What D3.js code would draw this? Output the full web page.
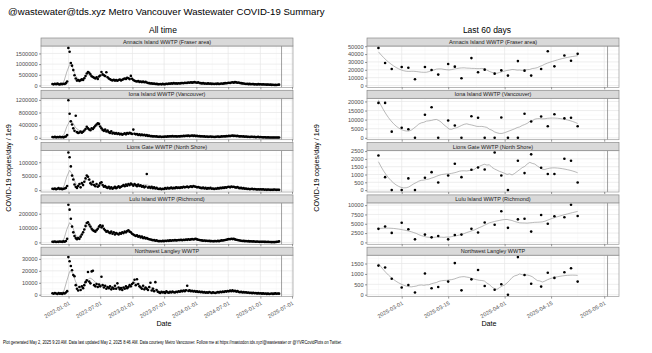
<!DOCTYPE html>
<html>
<head>
<meta charset="utf-8">
<script src="https://cdn.jsdelivr.net/npm/d3@7"></script>
<style>
  body { margin: 0; background: #fff; }
  svg { font-family: "Liberation Sans", Arial, sans-serif; }
</style>
</head>
<body>
<svg id="chart" width="652" height="353"></svg>
<script>
// ---- data ----
const plantNames = [
  "Annacis Island WWTP (Fraser area)",
  "Iona Island WWTP (Vancouver)",
  "Lions Gate WWTP (North Shore)",
  "Lulu Island WWTP (Richmond)",
  "Northwest Langley WWTP"
];

// all time: one sample per week from this date, values in thousands of copies/day/1e9
const allTimeStart = "2021-10-01";
const annacisAll = [70,55,80,60,90,65,50,75,60,85, 70,110,190,
  1760,1580,1050,930,720,480,330, 230,260,210,250,290,260,
  340,440,560,630,600,520,430,400, 360,330,380,310,420,
  470,630,520,480,440,620,390,
  330,290,260,240,270,230,250,220,260,280,240,270,
  300,330,310,360,340,300,450,320,
  260,220,200,190,210,170,190,160,180,150,170,140,
  120,110,95,100,80,90,70,75,65,
  60,70,55,75,60,65,80,70,90,85,100,90,110,95,100,90,105,
  95,110,120,105,130,115,125,140,130,150,135,145,160,140,130,150,120,110,
  100,110,90,95,85,100,80,90,75,85,70,80,75,90,70,85,95,80,100,110,105,
  120,130,115,140,150,135,160,145,130,140,120,110,100,95,
  85,70,80,65,75,60,70,65,55,60,50,65,55,
  60,50,55,45,50,40,45,35,40,30,35,25,30,25,35,40];
const ionaAll = [25,20,30,15,25,20,30,20,25,15,30,40,90,
  1190,760,520,420,300,220,700, 180,150,170,200,160,190,
  230,280,350,300,260,240,300,280, 330,380,420,460,440,
  360,300,250,220,260,200,230,
  180,150,210,140,160,130,150,120,140,110,130,100,
  120,140,110,150,130,160,140,120,
  260,130,110,120,90,110,85,100,80,95,70,85,
  60,70,50,55,45,50,40,45,35,
  30,40,25,35,30,40,35,45,40,50,45,55,40,50,45,40,50,
  45,55,50,60,55,65,60,70,55,65,75,60,70,55,60,50,55,45,
  50,40,45,35,40,30,35,40,30,35,25,30,35,40,30,35,45,40,50,45,55,
  50,60,55,65,70,60,65,55,60,50,45,50,40,45,
  35,40,30,35,25,30,35,25,30,20,25,30,20,
  25,20,15,20,15,10,15,12,10,8,12,10,8,10,12,8];
const lionsGateAll = [5,4,6,3,5,7,4,6,3,5,6,8,15,
  135,118,85,52,38,20,12, 8,15,22,10,25,18,
  30,42,52,48,38,25,20,30, 18,14,22,12,16,
  25,28,18,12,15,10,8,
  12,6,10,5,8,12,7,10,14,9,12,15,
  18,14,20,16,22,18,24,20,
  16,22,18,14,20,15,17,12,15,10,13,58,
  9,11,8,12,7,10,6,8,5,
  4,6,3,5,4,7,5,8,6,7,9,6,8,7,10,8,9,
  8,10,9,12,10,11,13,10,12,14,11,15,13,12,10,11,9,8,
  7,9,6,8,5,7,6,8,5,6,4,6,5,7,6,8,7,9,8,10,9,
  11,12,10,13,11,12,10,9,11,8,7,8,6,7,
  5,6,4,5,3,4,5,3,4,3,2,3,2,
  3,2,3,1.5,2,1,2,1.5,1,1.5,1,2,1.5,1,1.5,1];
const luluAll = [5,4,6,3,5,4,6,5,4,7,5,10,25,
  262,228,165,110,70,45,30, 22,30,25,40,55,70,
  90,115,135,140,125,110,95,85, 80,75,85,95,110,
  120,105,115,95,85,75,80,
  70,65,75,60,70,55,65,60,55,65,60,70,
  65,75,70,80,85,75,70,60,
  55,50,45,50,40,45,35,40,30,35,28,30,
  25,22,20,18,15,16,12,14,10,
  9,10,8,11,9,12,10,13,11,14,12,15,13,16,14,15,17,
  16,18,15,19,17,20,18,22,19,21,24,20,23,25,21,19,17,15,
  14,12,13,11,12,10,11,9,10,8,9,10,8,11,9,12,14,13,15,17,19,
  21,24,22,26,23,25,21,19,17,15,13,12,10,11,
  9,10,8,9,7,8,6,7,6,5,6,5,4,
  5,4,5,3.5,4,3,3.5,2.5,3,2,2.5,2,3,4,5,7];
const langleyAll = [1.2,0.8,1.5,1.0,0.6,1.3,0.9,1.1,0.7,1.4,1.0,1.8,3.0,
  31.5,28,24,20.5,16.5,15.5,8, 5,3.5,6.5,4,7,5.5,
  8,10.5,12,19,11,9.5,19.5,20, 8,7,9,6.5,8.5,
  7,15,8,6,7.5,5,6.5,
  5.5,7,4.5,6,5,7.5,5,9.5,6,4.5,5.5,4,
  6,5,7,5.5,6.5,8,7,9,
  10,12.5,8,13,9,7,6,5,7.5,4.5,6,5,
  4,6.5,10,3.5,5,3,10.5,4,2.5,
  2,1.5,2.5,1.8,2.2,1.5,2.8,2,1.7,2.4,1.9,2.6,2.1,1.8,2.5,2.2,2.9,
  2.5,3.2,2.8,3.5,3,3.8,7.5,3.2,3.6,2.9,3.3,2.7,3.1,2.5,2.8,2.3,2.6,2.1,
  2.4,1.9,2.2,1.7,2,1.6,2.3,1.8,1.5,2.1,1.7,1.4,1.9,2.2,1.8,2.5,2.1,2.7,2.3,2.9,2.6,
  3.1,2.8,3.4,3,3.6,2.9,3.3,2.6,3,2.4,2.1,2.5,1.9,2.2,
  1.8,2.1,1.6,1.9,1.4,1.7,1.3,1.6,1.2,1.5,1.1,1.3,1.0,
  1.2,0.9,1.1,0.8,1.0,0.7,0.9,0.6,0.8,1.0,0.7,0.9,1.1,0.8,1.0,0.9];

// last 60 days (copies/day/1e9)
const recentDates = ["2025-02-22","2025-02-24","2025-02-26","2025-03-01","2025-03-03","2025-03-05",
  "2025-03-08","2025-03-10","2025-03-12","2025-03-15","2025-03-17","2025-03-19","2025-03-22",
  "2025-03-24","2025-03-26","2025-03-29","2025-03-31","2025-04-02","2025-04-05","2025-04-07",
  "2025-04-09","2025-04-12","2025-04-14","2025-04-16","2025-04-19","2025-04-21","2025-04-23"];
const annacisRecent = [47900,28600,21000,23500,22700,8000,23500,19700,13900,27300,24000,9200,34900,
  16800,20200,15100,19300,12600,31100,18900,12600,21000,43700,24400,38200,31500,40300];
const ionaRecent = [19200,19200,3400,5500,4700,0,12700,16800,0,9500,6800,0,11900,
  11000,0,0,11200,0,0,13200,9000,11700,6400,13000,10700,11000,6400];
const lionsGateRecent = [2220,830,0,0,750,0,790,1150,490,940,1690,830,1300,
  1450,1320,2410,940,0,1880,1090,2290,1430,1030,1030,2010,1880,490];
const luluRecent = [3640,4270,2550,5270,3550,820,2090,1360,1730,820,2000,2090,3640,
  2640,5360,4730,8360,3910,6180,6360,2900,7360,5000,7000,6730,10090,7090];
const langleyRecent = [1400,1310,770,350,470,110,1020,310,370,630,1520,210,740,
  1190,420,240,500,0,1810,950,530,390,1060,810,1080,1270,630];

const reportDate = "2025-05-02";

// axis ticks
const allTimeXTicks = ["2022-01-01","2022-07-01","2023-01-01","2023-07-01","2024-01-01","2024-07-01","2025-01-01","2025-07-01"];
const recentXTicks = ["2025-03-01","2025-03-15","2025-04-01","2025-04-15","2025-05-01"];
const allTimeYTicks = [
  [0,500000,1000000,1500000],
  [0,400000,800000,1200000],
  [0,50000,100000],
  [0,100000,200000],
  [0,10000,20000,30000]
];
const recentYTicks = [
  [0,10000,20000,30000,40000,50000],
  [0,5000,10000,15000,20000],
  [0,500,1000,1500,2000,2500],
  [0,2500,5000,7500,10000],
  [0,500,1000,1500]
];

const titleText = "@wastewater@tds.xyz Metro Vancouver Wastewater COVID-19 Summary";
const footerText = "Plot generated May 2, 2025 9:20 AM. Data last updated May 2, 2025 8:46 AM. Data courtesy Metro Vancouver. Follow me at https://mastodon.tds.xyz/@wastewater or @YVRCovidPlots on Twitter.";

// ---- layout ----
const parse = d3.utcParse("%Y-%m-%d");
const svg = d3.select("#chart");
const leftCol = [41, 293], rightCol = [367, 619];
const rowTop = 38, rowStep = 52.3, stripH = 8, panelH = 41.4;
const tickColor = "#333", labelColor = "#4d4d4d";

// ggplot-ish 5% expansion
function expandDates(a, b) {
  const pad = (b - a) * 0.05;
  return [new Date(+a - pad), new Date(+b + pad)];
}

// local regression like geom_smooth(method = "loess")
function loess(xs, ys, span, degree, at) {
  const n = xs.length;
  const q = Math.min(n, Math.max(degree + 2, Math.floor(span * n)));
  return at.map(x0 => {
    const d = xs.map(x => Math.abs(x - x0));
    const h = d.slice().sort((a, b) => a - b)[q - 1] * 1.0001 || 1;
    const m = degree + 1;
    const A = Array.from({ length: m }, () => new Array(m).fill(0));
    const b = new Array(m).fill(0);
    for (let i = 0; i < n; i++) {
      const u = d[i] / h;
      if (u >= 1) continue;
      const w = Math.pow(1 - u * u * u, 3);
      const t = (xs[i] - x0) / h;
      const p = [1, t, t * t].slice(0, m);
      for (let r = 0; r < m; r++) {
        b[r] += w * p[r] * ys[i];
        for (let c = 0; c < m; c++) A[r][c] += w * p[r] * p[c];
      }
    }
    return solve(A, b)[0];
  });
}

function solve(A, b) {
  const n = b.length;
  const M = A.map((row, i) => row.concat([b[i]]));
  for (let c = 0; c < n; c++) {
    let piv = c;
    for (let r = c + 1; r < n; r++) if (Math.abs(M[r][c]) > Math.abs(M[piv][c])) piv = r;
    [M[c], M[piv]] = [M[piv], M[c]];
    for (let r = c + 1; r < n; r++) {
      const f = M[r][c] / M[c][c];
      for (let k = c; k <= n; k++) M[r][k] -= f * M[c][k];
    }
  }
  const x = new Array(n).fill(0);
  for (let r = n - 1; r >= 0; r--) {
    let s = M[r][n];
    for (let k = r + 1; k < n; k++) s -= M[r][k] * x[k];
    x[r] = s / M[r][r];
  }
  return x;
}

function midpoints(ticks, lo, hi) {
  const out = [];
  for (let i = 0; i < ticks.length - 1; i++) out.push((ticks[i] + ticks[i + 1]) / 2);
  const step = ticks[1] - ticks[0];
  out.push(ticks[0] - step / 2, ticks[ticks.length - 1] + step / 2);
  return out.filter(v => v > lo && v < hi);
}

function drawPanel(cfg) {
  const { col, row, label, dates, values, x, xTicks, yTicks, span, degree, r, bottom } = cfg;
  const g = svg.append("g");
  const top = rowTop + row * rowStep;
  const pTop = top + stripH, pBot = pTop + panelH;

  // smooth line
  const days = dates.map(d => +d / 864e5);
  const [d0, d1] = d3.extent(days);
  const sx = d3.range(80).map(k => d0 + (d1 - d0) * k / 79);
  const sy = loess(days, values, span, degree, sx);

  const yMax = Math.max(d3.max(values), d3.max(sy));
  const yMin = Math.min(0, d3.min(values), d3.min(sy));
  const pad = (yMax - yMin) * 0.05;
  const y = d3.scaleLinear().domain([yMin - pad, yMax + pad]).range([pBot, pTop]);

  // grid
  const xNum = xTicks.map(d => +d);
  const xMinor = midpoints(xNum, +x.domain()[0], +x.domain()[1]);
  const yMinor = midpoints(yTicks, y.domain()[0], y.domain()[1]);
  g.append("g").selectAll("line").data(yMinor).join("line")
    .attr("x1", col[0]).attr("x2", col[1]).attr("y1", d => y(d)).attr("y2", d => y(d))
    .attr("stroke", "#f2f2f2").attr("stroke-width", 0.4);
  g.append("g").selectAll("line").data(xMinor).join("line")
    .attr("y1", pTop).attr("y2", pBot).attr("x1", d => x(new Date(d))).attr("x2", d => x(new Date(d)))
    .attr("stroke", "#f2f2f2").attr("stroke-width", 0.4);
  g.append("g").selectAll("line").data(yTicks).join("line")
    .attr("x1", col[0]).attr("x2", col[1]).attr("y1", d => y(d)).attr("y2", d => y(d))
    .attr("stroke", "#e6e6e6").attr("stroke-width", 0.7);
  g.append("g").selectAll("line").data(xTicks).join("line")
    .attr("y1", pTop).attr("y2", pBot).attr("x1", d => x(d)).attr("x2", d => x(d))
    .attr("stroke", "#e6e6e6").attr("stroke-width", 0.7);

  // today line
  const today = parse(reportDate);
  g.append("line")
    .attr("x1", x(today)).attr("x2", x(today)).attr("y1", pTop).attr("y2", pBot)
    .attr("stroke", "#7a7a7a").attr("stroke-width", 0.7);

  // smooth under the points
  g.append("path")
    .datum(sx.map((d, i) => [d, sy[i]]))
    .attr("fill", "none").attr("stroke", "#8c8c8c").attr("stroke-width", 0.6)
    .attr("d", d3.line().x(d => x(new Date(d[0] * 864e5))).y(d => y(d[1])));
  g.append("g").selectAll("circle").data(values).join("circle")
    .attr("cx", (d, i) => x(dates[i])).attr("cy", d => y(d)).attr("r", r).attr("fill", "#000");

  // panel border
  g.append("rect")
    .attr("x", col[0]).attr("y", pTop).attr("width", col[1] - col[0]).attr("height", panelH)
    .attr("fill", "none").attr("stroke", "#9a9a9a").attr("stroke-width", 0.7);

  // strip
  g.append("rect")
    .attr("x", col[0]).attr("y", top).attr("width", col[1] - col[0]).attr("height", stripH)
    .attr("fill", "#d9d9d9").attr("stroke", "#8a8a8a").attr("stroke-width", 0.7);
  g.append("text")
    .attr("x", (col[0] + col[1]) / 2).attr("y", top + stripH / 2 + 1.9)
    .attr("text-anchor", "middle").attr("font-size", 5.5).attr("fill", "#1a1a1a")
    .text(label);

  // y axis
  const ya = g.append("g").attr("transform", `translate(${col[0]},0)`)
    .call(d3.axisLeft(y).tickValues(yTicks).tickSize(2).tickPadding(1.5).tickFormat(d3.format("d")));
  ya.select(".domain").remove();
  ya.selectAll("line").attr("stroke", tickColor).attr("stroke-width", 0.5);
  ya.selectAll("text").attr("font-size", 5.6).attr("fill", labelColor).attr("font-family", null);

  // x axis, labels on the last row only
  const xa = g.append("g").attr("transform", `translate(0,${pBot})`)
    .call(d3.axisBottom(x).tickValues(xTicks).tickSize(2).tickFormat(bottom ? d3.utcFormat("%Y-%m-%d") : ""));
  xa.select(".domain").remove();
  xa.selectAll("line").attr("stroke", tickColor).attr("stroke-width", 0.5);
  xa.selectAll("text")
    .attr("font-size", 5.6).attr("fill", labelColor).attr("font-family", null)
    .attr("text-anchor", "end").attr("y", 0).attr("dy", 0)
    .attr("transform", "translate(1.5,7.5) rotate(-30)");
}

// ---- columns ----
const start = parse(allTimeStart);
const allDates = annacisAll.map((d, i) => d3.utcDay.offset(start, 7 * i));
const xAll = d3.scaleUtc().domain(expandDates(start, parse(reportDate))).range(leftCol);
const recentParsed = recentDates.map(parse);
const xRecent = d3.scaleUtc().domain(expandDates(recentParsed[0], parse(reportDate))).range(rightCol);

const allSeries = [annacisAll, ionaAll, lionsGateAll, luluAll, langleyAll];
const recentSeries = [annacisRecent, ionaRecent, lionsGateRecent, luluRecent, langleyRecent];

plantNames.forEach((name, i) => {
  drawPanel({
    col: leftCol, row: i, label: name, dates: allDates,
    values: allSeries[i].map(v => v * 1000),
    x: xAll, xTicks: allTimeXTicks.map(parse), yTicks: allTimeYTicks[i],
    span: 0.06, degree: 1, r: 1.3, bottom: i === plantNames.length - 1
  });
  drawPanel({
    col: rightCol, row: i, label: name, dates: recentParsed,
    values: recentSeries[i],
    x: xRecent, xTicks: recentXTicks.map(parse), yTicks: recentYTicks[i],
    span: 0.4, degree: 2, r: 1.3, bottom: i === plantNames.length - 1
  });
});

// ---- titles ----
svg.append("text").attr("x", 8).attr("y", 15).attr("font-size", 9.6).attr("fill", "#000").text(titleText);
svg.append("text").attr("x", 163).attr("y", 33).attr("text-anchor", "middle").attr("font-size", 8.5).text("All time");
svg.append("text").attr("x", 487).attr("y", 33).attr("text-anchor", "middle").attr("font-size", 8.5).text("Last 60 days");

[[164, 11], [489, 319]].forEach(([cx, yx]) => {
  svg.append("text").attr("x", cx).attr("y", 326).attr("text-anchor", "middle").attr("font-size", 7.2).text("Date");
  svg.append("text")
    .attr("transform", `translate(${yx},168) rotate(-90)`)
    .attr("text-anchor", "middle").attr("font-size", 7.2).text("COVID-19 copies/day / 1e9");
});

svg.append("text").attr("x", 3).attr("y", 344).attr("font-size", 4.6).attr("fill", "#000")
  .attr("textLength", 339).attr("lengthAdjust", "spacingAndGlyphs").text(footerText);
</script>
</body>
</html>
